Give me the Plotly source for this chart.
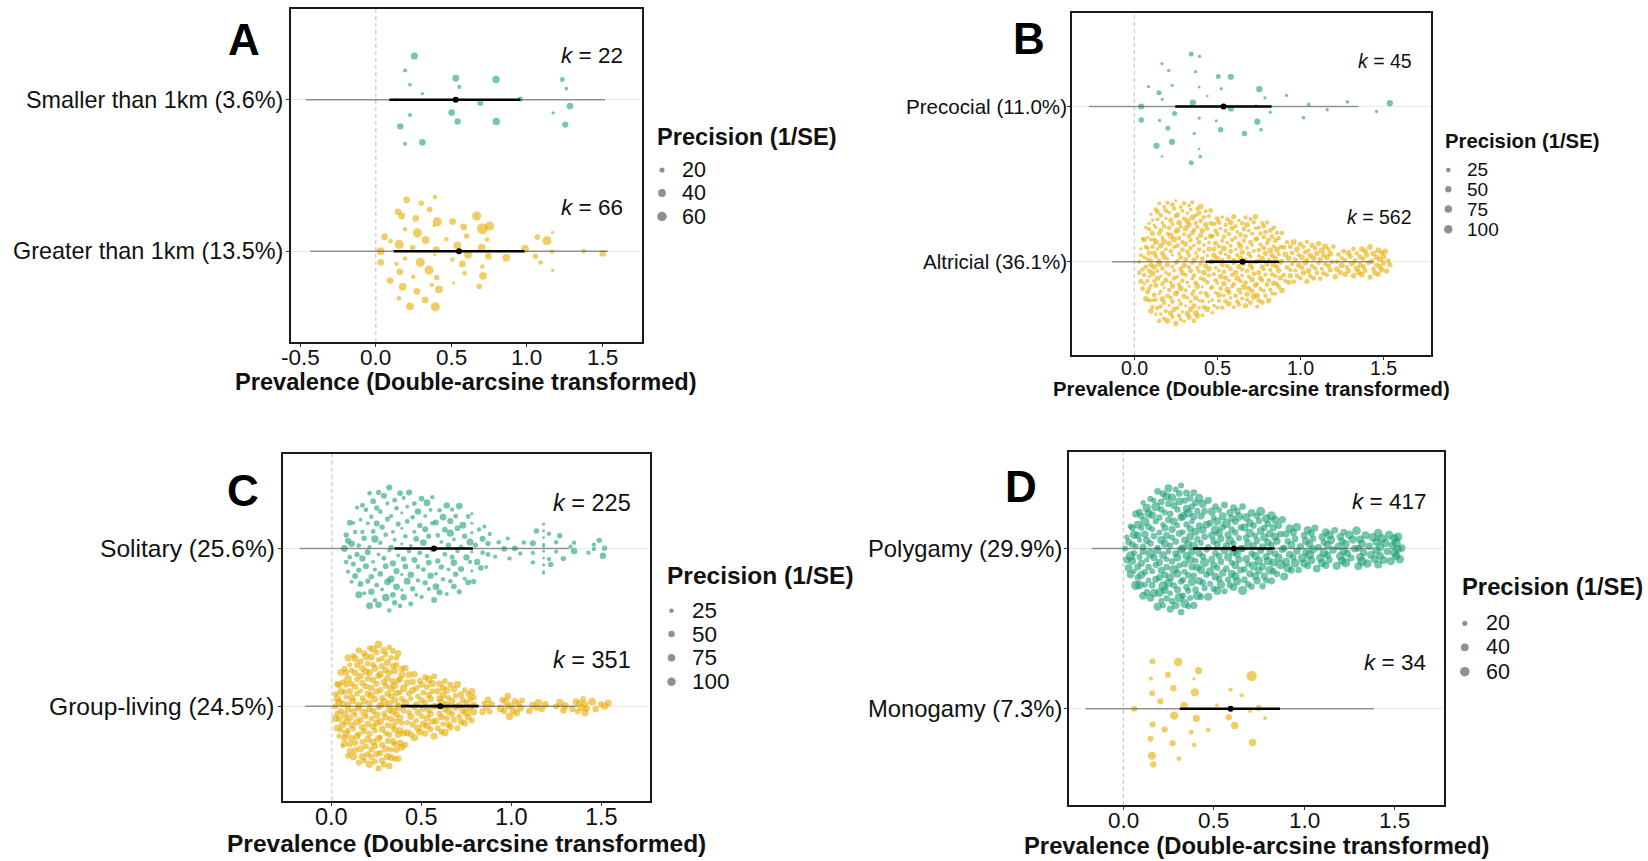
import numpy as np
import plotly.graph_objects as go

W, H = 1648, 861
FONT = "Liberation Sans, Arial, Helvetica, sans-serif"
TEAL = "#1B9E77"
GOLD = "#E6AB02"

# ======================= DATA =======================
# ---- Panel A : dispersal distance ----
A_CATS = ["Greater than 1km (13.5%)", "Smaller than 1km (3.6%)"]   # bottom, top
A_K = ["66", "22"]
A_TOP_X = [0.255, 0.193, 0.226, 0.308, 0.138, 0.529, 0.553, 0.502, 0.542, 0.692,
           0.796, 0.798, 0.957, 1.235, 1.262, 1.286, 1.174, 1.255, 0.226, 0.162,
           0.193, 0.308]
A_TOP_P = [33, 15, 14, 30, 13, 30, 15, 30, 27, 24, 36, 36, 20, 18, 14, 30, 13, 26, 15, 28, 15, 13]
A_BOT_X = [0.032, 0.032, 0.058, 0.098, 0.155, 0.147, 0.171, 0.204, 0.301, 0.390,
           0.357, 0.264, 0.193, 0.275, 0.244, 0.330, 0.407, 0.392, 0.509, 0.467,
           0.401, 0.385, 0.582, 0.602, 0.540, 0.668, 0.706, 0.754, 0.736, 0.706,
           0.610, 0.573, 0.507, 0.745, 0.864, 0.701, 0.710, 0.588, 0.685, 0.515,
           0.418, 0.403, 0.352, 0.294, 0.193, 0.136, 0.160, 0.248, 0.094, 0.177,
           0.272, 0.370, 0.153, 0.226, 0.326, 0.394, 0.988, 1.070, 1.134, 1.171,
           1.167, 1.057, 1.092, 1.171, 1.377, 1.503]
A_BOT_P = [40, 30, 30, 17, 55, 30, 30, 30, 22, 13,
           22, 30, 17, 55, 22, 40, 55, 17, 30, 17,
           30, 13, 30, 22, 40, 55, 17, 55, 17, 80,
           40, 30, 17, 30, 40, 40, 40, 17, 22, 13,
           40, 22, 55, 55, 17, 17, 30, 17, 30, 40,
           30, 17, 17, 40, 30, 55, 40, 22, 55, 13,
           17, 22, 17, 13, 17, 30]
# estimates: mean, CI low, CI high, PI low, PI high
A_TOP_EST = [0.529, 0.089, 0.957, -0.464, 1.518]
A_BOT_EST = [0.551, 0.118, 0.984, -0.435, 1.538]
A_LEG = [20, 40, 60]

# ---- Panel B : developmental mode ----
B_CATS = ["Altricial (36.1%)", "Precocial (11.0%)"]
B_K = ["562", "45"]
B_TOP_X = [0.343, 0.391, 0.167, 0.207, 0.369, 0.506, 0.582, 0.086, 0.229, 0.393,
           0.524, 0.149, 0.440, 0.753, 0.787, 0.917, 0.169, 0.353, 0.042, 0.582,
           0.243, 0.733, 0.819, 1.050, 1.162, 1.284, 1.459, 1.539, 0.042, 0.153,
           0.391, 0.494, 0.741, 1.019, 0.203, 0.520, 0.361, 0.664, 0.763, 0.134,
           0.227, 0.391, 0.167, 0.397, 0.343]
B_TOP_P = [37, 13, 17, 17, 17, 37, 60, 17, 17, 17,
           17, 37, 13, 60, 17, 17, 17, 60, 60, 60,
           37, 13, 17, 20, 17, 20, 17, 60, 45, 17,
           13, 17, 60, 20, 37, 45, 17, 45, 20, 60,
           60, 17, 13, 20, 37]
B_BOT_X = [
    0.03,0.03,0.04,0.04,0.04,0.05,0.05,0.05,0.06,0.06,0.06,0.06,0.07,0.07,0.07,0.07,0.08,0.08,0.08,0.08,0.08,0.09,0.09,0.09,0.09,0.09,0.09,0.09,
    0.10,0.10,0.10,0.10,0.10,0.10,0.11,0.11,0.11,0.11,0.11,0.11,0.12,0.12,0.12,0.12,0.12,0.12,0.13,0.13,0.13,0.13,0.13,0.13,0.13,
    0.14,0.14,0.14,0.14,0.14,0.14,0.15,0.15,0.15,0.15,0.15,0.15,0.16,0.16,0.16,0.16,0.16,0.16,0.16,0.17,0.17,0.17,0.17,0.17,0.17,
    0.18,0.18,0.18,0.18,0.18,0.18,0.18,0.19,0.19,0.19,0.19,0.19,0.19,
    0.20,0.20,0.20,0.20,0.20,0.20,0.21,0.21,0.21,0.21,0.21,0.21,0.22,0.22,0.22,0.22,0.22,0.22,0.23,0.23,0.23,0.23,0.23,0.23,0.23,
    0.24,0.24,0.24,0.24,0.24,0.24,0.25,0.25,0.25,0.25,0.25,0.25,0.26,0.26,0.26,0.26,0.26,0.26,0.26,0.27,0.27,0.27,0.27,0.27,0.27,
    0.28,0.28,0.28,0.28,0.28,0.28,0.28,0.29,0.29,0.29,0.29,0.29,0.29,
    0.30,0.30,0.30,0.30,0.30,0.30,0.31,0.31,0.31,0.31,0.31,0.31,0.32,0.32,0.32,0.32,0.32,0.32,0.33,0.33,0.33,0.33,0.33,0.33,0.33,
    0.34,0.34,0.34,0.34,0.34,0.34,0.35,0.35,0.35,0.35,0.35,0.35,0.36,0.36,0.36,0.36,0.36,0.36,0.36,0.37,0.37,0.37,0.37,0.37,0.37,
    0.38,0.38,0.38,0.38,0.38,0.38,0.38,0.39,0.39,0.39,0.39,0.39,0.39,
    0.40,0.40,0.40,0.40,0.40,0.40,0.41,0.41,0.41,0.41,0.41,0.42,0.42,0.42,0.42,0.42,0.42,0.43,0.43,0.43,0.43,0.43,
    0.44,0.44,0.44,0.44,0.44,0.45,0.45,0.45,0.45,0.45,0.45,0.46,0.46,0.46,0.46,0.46,0.47,0.47,0.47,0.47,0.47,
    0.48,0.48,0.48,0.48,0.48,0.49,0.49,0.49,0.49,0.49,
    0.50,0.50,0.50,0.50,0.50,0.51,0.51,0.51,0.51,0.51,0.52,0.52,0.52,0.52,0.53,0.53,0.53,0.53,0.53,
    0.54,0.54,0.54,0.54,0.54,0.55,0.55,0.55,0.55,0.55,0.56,0.56,0.56,0.56,0.57,0.57,0.57,0.57,0.57,
    0.58,0.58,0.58,0.58,0.58,0.59,0.59,0.59,0.59,
    0.60,0.60,0.60,0.60,0.60,0.61,0.61,0.61,0.61,0.61,0.62,0.62,0.62,0.62,0.63,0.63,0.63,0.63,0.63,
    0.64,0.64,0.64,0.64,0.64,0.65,0.65,0.65,0.65,0.65,0.66,0.66,0.66,0.66,0.67,0.67,0.67,0.67,0.67,
    0.68,0.68,0.68,0.68,0.68,0.69,0.69,0.69,0.69,
    0.70,0.70,0.70,0.70,0.70,0.71,0.71,0.71,0.71,0.71,0.72,0.72,0.72,0.72,0.73,0.73,0.73,0.73,0.73,
    0.74,0.74,0.74,0.74,0.74,0.75,0.75,0.75,0.75,0.75,0.76,0.76,0.76,0.76,0.77,0.77,0.77,0.77,0.77,
    0.78,0.78,0.78,0.78,0.78,0.79,0.79,0.79,0.79,
    0.80,0.80,0.80,0.80,0.81,0.81,0.81,0.81,0.82,0.82,0.82,0.82,0.83,0.83,0.83,0.83,
    0.84,0.84,0.84,0.84,0.85,0.85,0.85,0.85,0.86,0.86,0.86,0.86,0.87,0.87,0.87,0.87,
    0.88,0.88,0.88,0.89,0.89,0.89,
    0.90,0.90,0.91,0.91,0.92,0.92,0.93,0.93,0.94,0.94,0.94,0.95,0.95,0.96,0.96,0.97,0.97,0.98,0.98,0.99,0.99,
    1.00,1.00,1.01,1.01,1.02,1.02,1.03,1.03,1.04,1.04,1.04,1.05,1.05,1.06,1.06,1.07,1.07,1.08,1.08,1.09,1.09,
    1.10,1.10,1.11,1.11,1.12,1.12,1.13,1.13,1.14,1.14,1.15,1.15,1.16,1.16,1.17,1.17,1.18,1.18,1.19,
    1.20,1.21,1.22,1.22,1.23,1.24,1.25,1.25,1.26,1.27,1.27,1.28,1.29,1.29,
    1.30,1.31,1.32,1.32,1.33,1.34,1.34,1.35,1.36,1.36,1.37,1.37,1.38,1.38,1.39,1.39,
    1.40,1.41,1.42,1.42,1.43,1.44,1.44,1.45,1.46,1.46,1.47,1.47,1.48,1.48,1.49,1.49,
    1.50,1.50,1.51,1.52,1.53,1.54]
B_BOT_P = [
    20,30,16,40,22,28,18,35,24,30,45,18,26,32,20,50,22,28,16,38,24,30,20,26,42,18,30,22,
    25,35,18,45,28,20,38,22,30,55,20,28,42,24,16,34,22,48,28,20,32,40,18,26,50,22,35,28,20,42,
    24,16,30,55,22,28,38,20,34,26,45,18,28,22,38,30,20,52,24,34,22,28,44,16,32,26,48,20,35,28,
    22,40,18,
    30,22,40,26,50,20,28,35,16,42,28,22,48,30,20,38,26,58,22,34,28,16,44,24,32,50,20,28,40,22,
    35,24,46,20,28,16,40,32,22,55,26,35,20,42,28,22,32,48,18,28,38,24,22,35,50,20,30,28,44,24,
    20,36,28,
    28,40,22,48,30,18,36,24,55,16,40,28,22,44,32,24,52,20,36,28,22,40,30,16,48,24,28,36,20,44,
    30,22,56,28,40,16,26,36,48,22,28,40,20,32,24,52,22,36,28,44,20,32,24,40,22,48,28,16,36,24,
    44,22,32,
    26,36,20,44,28,48,22,32,16,40,28,22,50,26,36,20,32,44,28,22,40,26,55,20,32,28,36,22,48,26,
    16,40,28,32,22,44,26,36,20,50,28,32,22,40,26,36,20,44,28,32,22,40,26,
    36,26,44,22,32,50,28,20,40,26,32,48,22,36,28,40,20,32,26,44,28,22,55,32,26,36,20,40,28,48,
    22,32,26,44,36,20,28,40,26,32,50,22,36,28,40,26,32,
    28,40,22,48,32,26,36,20,44,28,32,26,52,22,36,28,40,20,32,48,26,36,22,44,28,32,26,40,22,36,
    55,28,32,26,44,22,36,28,40,20,32,48,26,36,28,22,40,
    32,44,26,36,22,48,28,40,20,32,28,52,26,36,22,40,32,28,44,26,36,22,32,48,28,40,26,36,20,44,
    28,32,26,40,22,36,52,28,32,26,40,22,36,28,44,26,32,
    36,26,44,28,48,22,32,40,28,52,26,36,22,40,32,28,44,26,55,32,22,36,28,40,26,48,32,28,36,22,
    44,28,40,26,36,32,48,28,
    32,44,26,52,36,28,40,48,26,36,44,32,28,55,36,40,26,48,32,28,44,
    40,28,48,36,26,44,32,52,28,40,36,48,26,32,44,28,40,36,52,32,28,
    36,48,28,40,32,44,26,52,36,40,28,48,32,44,36,26,40,52,32,
    32,44,28,48,36,40,26,52,36,44,32,28,48,40,
    40,52,32,44,36,55,28,48,40,36,44,52,32,40,48,36,
    44,36,52,40,48,32,55,40,44,36,52,40,48,44,36,48,
    48,40,52,44,36,40]
B_TOP_EST = [0.538, 0.247, 0.827, -0.273, 1.350]
B_BOT_EST = [0.652, 0.431, 0.873, -0.135, 1.440]
B_LEG = [25, 50, 75, 100]

# ---- Panel C : sociality ----
C_CATS = ["Group-living (24.5%)", "Solitary (25.6%)"]
C_K = ["351", "225"]
C_TOP_X = [
    0.07,0.08,0.08,0.09,0.09,
    0.10,0.10,0.11,0.11,0.12,0.12,0.13,0.13,0.14,0.14,0.15,0.15,0.15,0.16,0.16,0.17,0.17,0.17,0.18,0.18,0.19,0.19,
    0.20,0.20,0.20,0.21,0.21,0.21,0.22,0.22,0.22,0.23,0.23,0.23,0.24,0.24,0.24,0.25,0.25,0.25,0.26,0.26,0.26,0.27,0.27,0.27,0.28,0.28,0.29,0.29,
    0.30,0.30,0.30,0.31,0.31,0.31,0.32,0.32,0.32,0.33,0.33,0.33,0.34,0.34,0.34,0.35,0.35,0.35,0.36,0.36,0.36,0.37,0.37,0.38,0.38,0.39,0.39,0.39,0.39,0.39,
    0.40,0.40,0.40,0.41,0.41,0.42,0.42,0.42,0.43,0.43,0.44,0.44,0.44,0.45,0.45,0.46,0.46,0.46,0.47,0.47,0.48,0.48,0.48,0.49,0.49,
    0.50,0.50,0.51,0.51,0.52,0.52,0.52,0.53,0.53,0.54,0.54,0.54,0.55,0.55,0.56,0.56,0.56,0.57,0.57,0.58,0.58,0.58,0.59,0.59,
    0.60,0.60,0.61,0.61,0.62,0.62,0.63,0.63,0.64,0.64,0.65,0.65,0.66,0.66,0.66,0.67,0.67,0.68,0.68,0.68,0.69,0.69,
    0.70,0.70,0.71,0.71,0.72,0.72,0.73,0.74,0.74,0.75,0.76,0.76,0.77,0.77,0.78,0.78,0.78,0.78,0.78,0.79,
    0.80,0.81,0.82,0.83,0.84,0.84,0.85,0.86,0.87,0.87,0.88,
    0.91,0.93,0.96,0.98,0.99,
    1.02,1.05,1.07,
    1.12,1.12,1.12,1.14,1.18,1.18,1.18,1.18,1.18,1.18,1.18,1.18,1.18,1.18,
    1.21,1.21,1.22,1.25,1.25,1.27,1.29,
    1.33,1.35,1.35,
    1.43,1.46,1.46,1.49,
    1.51,1.52]
C_TOP_P = [
    60,25,35,20,45,
    25,40,20,55,30,18,45,25,35,20,60,25,30,18,40,22,50,28,20,35,45,25,
    30,18,45,25,60,20,35,22,50,28,18,40,25,70,20,35,28,45,18,30,55,22,40,25,18,35,28,45,
    75,25,40,20,55,30,18,45,25,35,65,22,40,18,50,28,35,20,45,25,60,30,18,40,25,14,14,14,15,14,
    35,20,50,25,40,18,60,28,22,45,30,18,55,25,35,20,45,28,18,40,25,50,22,35,28,
    40,22,55,28,18,35,45,25,60,20,30,40,18,50,25,35,22,45,28,18,40,55,25,35,
    25,45,18,35,60,22,40,28,50,20,35,18,45,25,65,30,22,40,18,55,28,35,
    40,22,55,30,25,45,60,20,35,50,28,40,65,22,14,14,15,14,14,35,
    30,50,22,40,45,25,20,18,35,28,22,
    22,25,40,20,22,
    40,22,25,
    22,45,22,35,13,13,13,13,14,13,13,14,13,13,
    22,22,35,22,20,35,35,
    22,50,22,
    22,22,22,35,
    50,35]
C_BOT_X = [
    0.02,0.02,0.02,0.03,0.03,0.03,0.03,0.04,0.04,0.04,0.04,0.05,0.05,0.05,0.05,0.06,0.06,0.06,0.06,
    0.07,0.07,0.07,0.07,0.07,0.08,0.08,0.08,0.08,0.08,0.09,0.09,0.09,0.09,0.09,0.09,
    0.10,0.10,0.10,0.10,0.10,0.11,0.11,0.11,0.11,0.11,0.12,0.12,0.12,0.12,0.12,0.13,0.13,0.13,0.13,0.13,0.13,
    0.14,0.14,0.14,0.14,0.14,0.15,0.15,0.15,0.15,0.15,0.16,0.16,0.16,0.16,0.16,0.17,0.17,0.17,0.17,0.17,0.17,
    0.18,0.18,0.18,0.18,0.18,0.19,0.19,0.19,0.19,0.19,
    0.20,0.20,0.20,0.20,0.20,0.20,0.21,0.21,0.21,0.21,0.21,0.21,0.22,0.22,0.22,0.22,0.22,0.22,0.23,0.23,0.23,0.23,0.23,0.23,
    0.24,0.24,0.24,0.24,0.24,0.25,0.25,0.25,0.25,0.25,0.25,0.26,0.26,0.26,0.26,0.26,0.26,0.27,0.27,0.27,0.27,0.27,0.27,
    0.28,0.28,0.28,0.28,0.28,0.28,0.29,0.29,0.29,0.29,0.29,
    0.30,0.30,0.30,0.30,0.30,0.30,0.31,0.31,0.31,0.31,0.31,0.31,0.32,0.32,0.32,0.32,0.32,0.32,0.33,0.33,0.33,0.33,0.33,0.33,
    0.34,0.34,0.34,0.34,0.34,0.34,0.35,0.35,0.35,0.35,0.35,0.35,0.36,0.36,0.36,0.36,0.36,0.36,0.37,0.37,0.37,0.37,0.37,0.37,
    0.38,0.38,0.38,0.38,0.38,0.39,0.39,0.39,0.39,0.39,
    0.40,0.40,0.40,0.41,0.41,0.41,0.42,0.42,0.42,0.43,0.43,0.43,0.44,0.44,0.44,0.45,0.45,0.45,0.46,0.46,0.46,
    0.47,0.47,0.47,0.48,0.48,0.48,0.49,0.49,
    0.50,0.50,0.50,0.51,0.51,0.51,0.52,0.52,0.52,0.53,0.53,0.53,0.54,0.54,0.54,0.55,0.55,0.55,0.56,0.56,0.56,
    0.57,0.57,0.57,0.58,0.58,0.59,0.59,
    0.60,0.60,0.60,0.61,0.61,0.61,0.62,0.62,0.62,0.63,0.63,0.63,0.64,0.64,0.64,0.65,0.65,0.65,
    0.66,0.66,0.67,0.67,0.68,0.68,0.69,0.69,
    0.70,0.70,0.71,0.71,0.72,0.72,0.73,0.73,0.74,0.74,0.75,0.75,0.76,0.76,0.77,0.77,0.78,0.78,0.79,0.79,0.79,
    0.84,0.85,0.86,0.87,0.88,0.89,
    0.94,0.95,0.96,0.97,0.98,0.98,0.99,
    1.00,1.01,1.02,1.03,1.04,1.05,1.06,
    1.10,1.12,1.14,1.15,1.17,1.19,
    1.25,1.27,1.29,1.30,
    1.34,1.36,1.37,1.38,1.39,
    1.40,1.41,1.41,1.42,1.45,1.47,
    1.50,1.52,1.54]
C_BOT_P = [
    45,65,35,55,75,40,50,30,60,45, 55,35,70,45,60,25,50,65,40,55,
    35,75,45,50,30,60,45,70,40,55, 65,40,55,35,80,45,50,60,30,45,
    70,50,35,60,45,55,40,75,50,35, 60,45,55,30,65,50,40,70,45,55,
    35,60,50,45,75,40,55,65,30,50, 45,70,35,55,60,40,50,80,45,35,
    55,45,65,40,50,30,70,45,60,55, 40,65,45,55,35,75,50,45,60,40,
    50,35,60,45,70,55,40,65,50,45, 75,40,55,35,60,50,45,70,40,55,
    45,60,35,65,50,40,75,45,55,30, 60,50,45,70,35,55,40,65,50,45,
    55,40,65,45,80,35,50,60,45,55, 35,70,50,45,60,40,55,75,35,50,
    65,45,55,40,70,50,35,60,45,55, 40,60,50,75,45,35,65,50,55,40,
    70,45,35,55,60,50,45,65,40,75, 50,55,40,60,45,70,35,55,50,65,
    45,35,60,50,75,40,55,45,65,35, 55,70,45,40,60,50,35,65,55,45,
    60,40,55,70,45,35,50,75,40,55, 45,65,50,35,55,60,40,70,45,50,
    35,55,45,65,50,40,75,45,60,55, 70,50,40,55,45,65,35,60,50,45,
    55,45,60,40,70,50,55,35,65,45, 40,75,50,45,60,55,35,70,45,60,
    65,45,55,50,40,60,70,45,55,35, 50,60,45,65,35,55,45,75,40,60,
    45,55,70,40,50,65,45,60,35,55, 60,40,55,75,45,50,65,40,55,70,
    55,65,45,60,50,70,40,55,65,45, 75,50,60,45,65,55,70,50,60,45,
    55,70,45,65,60,50,75,55,45,65, 60]
C_TOP_EST = [0.569, 0.349, 0.786, -0.180, 1.320]
C_BOT_EST = [0.604, 0.385, 0.818, -0.149, 1.370]
C_LEG = [25, 50, 75, 100]

# ---- Panel D : mating system ----
D_CATS = ["Monogamy (7.3%)", "Polygamy (29.9%)"]
D_K = ["34", "417"]
D_TOP_X = [
    0.01,0.02,0.02,0.03,0.03,0.04,0.04,0.04,0.05,0.05,0.05,0.06,0.06,0.06,0.07,0.07,0.07,0.08,0.08,0.08,0.08,0.09,0.09,0.09,0.09,
    0.10,0.10,0.10,0.10,0.11,0.11,0.11,0.11,0.12,0.12,0.12,0.12,0.13,0.13,0.13,0.13,0.14,0.14,0.14,0.14,
    0.15,0.15,0.15,0.15,0.16,0.16,0.16,0.16,0.17,0.17,0.17,0.17,0.18,0.18,0.18,0.18,0.19,0.19,0.19,0.19,
    0.20,0.20,0.20,0.20,0.20,0.21,0.21,0.21,0.21,0.21,0.22,0.22,0.22,0.22,0.22,0.23,0.23,0.23,0.23,0.23,
    0.24,0.24,0.24,0.24,0.24,0.25,0.25,0.25,0.25,0.25,0.26,0.26,0.26,0.26,0.26,0.27,0.27,0.27,0.27,0.27,
    0.28,0.28,0.28,0.28,0.29,0.29,0.29,0.29,
    0.30,0.30,0.30,0.30,0.30,0.31,0.31,0.31,0.31,0.31,0.32,0.32,0.32,0.32,0.32,0.33,0.33,0.33,0.33,0.33,
    0.34,0.34,0.34,0.34,0.34,0.35,0.35,0.35,0.35,0.35,0.36,0.36,0.36,0.36,0.36,0.37,0.37,0.37,0.37,0.37,
    0.38,0.38,0.38,0.38,0.38,0.39,0.39,0.39,0.39,0.39,
    0.40,0.40,0.40,0.40,0.41,0.41,0.41,0.41,0.42,0.42,0.42,0.42,0.43,0.43,0.43,0.43,0.44,0.44,0.44,0.44,
    0.45,0.45,0.45,0.45,0.46,0.46,0.46,0.47,0.47,0.47,0.48,0.48,0.48,0.49,0.49,0.49,
    0.50,0.50,0.50,0.50,0.51,0.51,0.51,0.51,0.52,0.52,0.52,0.52,0.53,0.53,0.53,0.53,
    0.54,0.54,0.54,0.55,0.55,0.55,0.56,0.56,0.56,0.57,0.57,0.57,0.58,0.58,0.58,0.59,0.59,0.59,
    0.60,0.60,0.60,0.60,0.61,0.61,0.61,0.61,0.62,0.62,0.62,0.62,
    0.63,0.63,0.63,0.64,0.64,0.64,0.65,0.65,0.65,0.66,0.66,0.66,0.67,0.67,0.67,0.68,0.68,0.68,0.69,0.69,0.69,
    0.70,0.70,0.70,0.71,0.71,0.71,0.72,0.72,0.72,0.73,0.73,0.73,0.74,0.74,0.74,
    0.75,0.75,0.75,0.76,0.76,0.76,0.77,0.77,0.77,0.78,0.78,0.78,0.79,0.79,0.79,
    0.80,0.80,0.80,0.81,0.81,0.81,0.82,0.82,0.82,0.83,0.83,0.83,0.84,0.84,0.84,
    0.85,0.85,0.86,0.86,0.87,0.87,0.88,0.88,0.89,0.89,
    0.90,0.90,0.91,0.91,0.92,0.92,0.93,0.93,0.94,0.94,0.95,0.95,0.96,0.96,0.97,0.98,0.99,
    1.00,1.00,1.01,1.01,1.02,1.02,1.03,1.03,1.04,1.04,1.05,1.05,1.06,1.07,1.08,1.09,
    1.10,1.10,1.11,1.11,1.12,1.12,1.13,1.13,1.14,1.14,1.15,1.16,1.17,1.18,1.19,
    1.20,1.20,1.21,1.21,1.22,1.22,1.23,1.23,1.24,1.25,1.26,1.27,1.28,1.29,
    1.30,1.30,1.31,1.31,1.32,1.32,1.33,1.34,1.35,1.36,1.37,1.38,1.39,
    1.40,1.40,1.41,1.41,1.42,1.42,1.43,1.44,1.45,1.46,1.47,1.48,1.49,
    1.50,1.50,1.51,1.51,1.52,1.52,1.53,1.54]
D_TOP_P = [
    25,35,20,45,30,55,22,38,28,40, 30,20,48,25,35,60,22,32,42,28,
    38,25,30,50,20,35,28,45,24,33, 22,40,30,28,55,25,36,20,44,30,
    35,28,45,22,30,60,26,38,32,24, 42,30,25,36,20,48,30,28,55,34,
    26,38,30,45,22,33,28,50,25,36, 30,24,42,35,28,58,22,40,30,26,
    45,30,25,38,33,22,48,28,36,30, 28,52,30,24,40,35,26,45,30,22,
    36,28,44,30,25,55,32,27,40,30, 24,38,30,46,28,35,22,42,30,60,
    32,26,40,28,35,48,25,30,38,27, 45,30,22,36,28,52,34,25,40,30,
    28,42,32,25,38,30,56,26,35,44, 30,25,40,34,28,46,22,38,30,35,
    50,28,36,30,42,25,32,55,28,38, 26,40,30,35,48,28,24,42,34,30,
    38,30,45,26,32,58,30,28,40,25, 35,42,28,50,30,25,38,32,46,28,
    30,36,24,40,55,30,28,44,35,26, 42,28,38,30,25,48,34,30,40,36,
    28,45,32,26,38,30,60,28,35,42, 36,30,48,25,34,40,28,52,30,38,
    25,40,30,44,28,36,32,46,26,34, 48,32,28,38,30,55,35,27,42,30,
    30,38,45,28,35,26,40,34,50,28, 40,28,34,52,30,38,25,45,32,36,
    32,46,28,36,42,30,55,28,38,34, 28,35,40,30,48,26,36,44,30,50,
    38,30,55,34,28,42,36,30,46,32, 45,28,36,40,32,58,30,38,34,42,
    30,42,34,48,28,36,45,32,40,30, 36,50,30,38,44,28,34,52,30,40,
    42,32,46,30,38,55,34,40,28,45, 34,40,30,48,36,42,30,50,38,35,
    40,35,52,32,45,38,30,44,36,48, 38,46,34,42,30,55,40,36,48,32,
    44,36,50,40,34,46,38,58,42,36, 40,48,36,45,52,38,44,40,50,42,
    46,40,55,42,48,36,50,44,40,52, 48,42,55,40,50,46,38]
D_BOT_X = [0.160, 0.304, 0.417, 0.247, 0.153, 0.393, 0.710, 0.277, 0.396, 0.162,
           0.594, 0.655, 0.205, 0.337, 0.518, 0.061, 0.749, 0.701, 0.282, 0.404,
           0.584, 0.784, 0.162, 0.229, 0.376, 0.470, 0.616, 0.151, 0.273, 0.391,
           0.715, 0.159, 0.308, 0.166]
D_BOT_P = [25, 48, 35, 25, 16, 18, 72, 27, 45, 25,
           16, 15, 27, 35, 14, 25, 25, 15, 45, 35,
           27, 15, 25, 27, 18, 18, 35, 25, 27, 13,
           35, 45, 18, 27]
D_TOP_EST = [0.612, 0.387, 0.837, -0.175, 1.382]
D_BOT_EST = [0.594, 0.313, 0.867, -0.208, 1.386]
D_LEG = [20, 40, 60]

TICKS_A = [-0.5, 0.0, 0.5, 1.0, 1.5]
TICKS = [0.0, 0.5, 1.0, 1.5]
X_TITLE = "Prevalence (Double-arcsine transformed)"
LEG_TITLE = "Precision (1/SE)"

# ======================= LAYOUT / STYLE =======================
PANELS = [
    dict(letter="A", cats=A_CATS, k=A_K, top=(A_TOP_X, A_TOP_P, A_TOP_EST), bot=(A_BOT_X, A_BOT_P, A_BOT_EST),
         leg=A_LEG, ticks=TICKS_A, px=(290.6, 641.5), py=(9, 342), xr=(-0.565, 1.76),
         fs=22.5, cfs=23.4, tfs=23.6, lfs=21.5, ltfs=23.6, letter_xy=(243.8, 39.3),
         title_xy=(466, 381.7), tick_y=357.5, cat_right=285, kx=1.65,
         leg_title=(655, 137), leg_y=[170, 193, 216.5], leg_dot_x=662, leg_lab_x=680,
         lim=(12, 81), dscale=1.0),
    dict(letter="B", cats=B_CATS, k=B_K, top=(B_TOP_X, B_TOP_P, B_TOP_EST), bot=(B_BOT_X, B_BOT_P, B_BOT_EST),
         leg=B_LEG, ticks=TICKS, px=(1072.3, 1431.0), py=(13.3, 355), xr=(-0.373, 1.787),
         fs=19.5, cfs=20.6, tfs=20.3, lfs=19, ltfs=20.3, letter_xy=(1029, 39),
         title_xy=(1251.7, 389), tick_y=368.5, cat_right=1069, kx=1.687,
         leg_title=(1443.3, 141.5), leg_y=[170, 189.3, 209, 229.3], leg_dot_x=1448.3, leg_lab_x=1465,
         lim=(12, 181), dscale=0.9),
    dict(letter="C", cats=C_CATS, k=C_K, top=(C_TOP_X, C_TOP_P, C_TOP_EST), bot=(C_BOT_X, C_BOT_P, C_BOT_EST),
         leg=C_LEG, ticks=TICKS, px=(282.5, 650.4), py=(454, 800.7), xr=(-0.275, 1.775),
         fs=23.5, cfs=24.6, tfs=24.5, lfs=22.5, ltfs=24.5, letter_xy=(243, 490),
         title_xy=(466.5, 843), tick_y=816.5, cat_right=276.5, kx=1.676,
         leg_title=(664.8, 575), leg_y=[610.7, 634, 657.7, 681.7], leg_dot_x=671.5, leg_lab_x=690,
         lim=(12, 181), dscale=1.0),
    dict(letter="D", cats=D_CATS, k=D_K, top=(D_TOP_X, D_TOP_P, D_TOP_EST), bot=(D_BOT_X, D_BOT_P, D_BOT_EST),
         leg=D_LEG, ticks=TICKS, px=(1068.8, 1444.4), py=(452.3, 805), xr=(-0.301, 1.776),
         fs=22.5, cfs=23.8, tfs=23.8, lfs=21.5, ltfs=23.8, letter_xy=(1021, 486),
         title_xy=(1256.6, 845.5), tick_y=820, cat_right=1063.6, kx=1.683,
         leg_title=(1459.7, 586.7), leg_y=[623.3, 647.3, 671.7], leg_dot_x=1464.8, leg_lab_x=1483.6,
         lim=(12, 81), dscale=1.0),
]
DIAM_RANGE = (2.2, 11.0)
POINT_ALPHA = 0.6


def vdc(n):
    out = np.zeros(n)
    for i in range(1, n + 1):
        v, denom, k = 0.0, 1.0, i
        while k:
            denom *= 2.0
            k, r = divmod(k, 2)
            v += r / denom
        out[i - 1] = v
    return out


def quasi_offsets(x, width=0.4, adjust=0.5):
    """quasirandom (vipor-like) offsets: van der Corput sequence scaled by KDE density."""
    x = np.asarray(x, float)
    n = len(x)
    if n < 2:
        return np.zeros(n)
    sd = x.std(ddof=1)
    q75, q25 = np.percentile(x, [75, 25])
    iqr = (q75 - q25) / 1.34
    lo = min(sd, iqr) if iqr > 0 else sd
    bw = 0.9 * lo * n ** -0.2 * adjust
    grid = np.linspace(x.min() - 3 * bw, x.max() + 3 * bw, 512)
    dens = np.exp(-0.5 * ((grid[:, None] - x[None, :]) / bw) ** 2).sum(axis=1)
    d_at = np.interp(x, grid, dens) / dens.max()
    ranks = np.argsort(np.argsort(x, kind="stable"), kind="stable")
    v = vdc(n)[ranks]
    return (2 * v - 1) * width * d_at


def diam(p, lim, scale=1.0, dr=DIAM_RANGE):
    p = np.asarray(p, float)
    t = np.clip((p - lim[0]) / (lim[1] - lim[0]), 0, 1)
    return scale * (dr[0] + (dr[1] - dr[0]) * np.sqrt(t))


def pxx(v):
    return v / W


def pxy(v):
    return 1 - v / H


fig = go.Figure()
layout = dict(width=W, height=H, margin=dict(l=0, r=0, t=0, b=0), autosize=False,
              paper_bgcolor="white", plot_bgcolor="rgba(0,0,0,0)", showlegend=False,
              font=dict(family=FONT, color="#111111"))
shapes, annotations = [], []
leg_x, leg_y, leg_s = [], [], []


def ann(**kw):
    base = dict(showarrow=False, xanchor="center", yanchor="middle")
    base.update(kw)
    annotations.append(base)


for i, P in enumerate(PANELS, start=1):
    sfx = "" if i == 1 else str(i)
    xa, ya = "x" + sfx, "y" + sfx
    layout["xaxis" + sfx] = dict(
        domain=[pxx(P["px"][0]), pxx(P["px"][1])], range=list(P["xr"]), anchor=ya,
        tickvals=P["ticks"], showticklabels=False, showgrid=False, zeroline=False,
        showline=True, mirror=True, linecolor="#1a1a1a", linewidth=2, ticks="outside", ticklen=3,
        tickwidth=1, tickcolor="#333333", automargin=False, fixedrange=True)
    layout["yaxis" + sfx] = dict(
        domain=[pxy(P["py"][1]), pxy(P["py"][0])], range=[0.4, 2.6], anchor=xa,
        tickvals=[1, 2], showticklabels=False, showgrid=True, gridcolor="#EBEBEB", gridwidth=1,
        zeroline=False, showline=True, mirror=True, linecolor="#1a1a1a", linewidth=2,
        ticks="outside", ticklen=3, tickwidth=1, tickcolor="#333333", automargin=False,
        fixedrange=True)

    # x tick labels
    for t in P["ticks"]:
        ann(x=t, xref=xa, y=pxy(P["tick_y"]), yref="paper", text="%.1f" % t,
            font=dict(size=P["fs"], color="#111111", family=FONT))
    # category labels
    for yv, lab in zip([1, 2], P["cats"]):
        ann(x=pxx(P["cat_right"]), xref="paper", y=yv, yref=ya, xanchor="right", text=lab,
            font=dict(size=P["cfs"], color="#111111", family=FONT))

    # dashed zero line
    shapes.append(dict(type="line", xref=xa, yref=ya + " domain", x0=0, x1=0, y0=0, y1=1,
                       line=dict(color="#BDBDBD", width=1, dash="4px,3px"), layer="below"))

    for ycat, (xs, ps, est), color, ktxt in ((2, P["top"], TEAL, P["k"][1]), (1, P["bot"], GOLD, P["k"][0])):
        n = min(len(xs), len(ps))
        xs_a = np.asarray(xs[:n], float)
        off = quasi_offsets(xs_a)
        fig.add_trace(go.Scatter(
            x=xs_a, y=ycat + off, mode="markers", xaxis=xa, yaxis=ya, hoverinfo="skip",
            marker=dict(size=diam(ps[:n], P["lim"], P["dscale"]), color=color,
                        opacity=POINT_ALPHA, line=dict(width=0))))
        mean, cl, ch, pl, ph = est
        fig.add_trace(go.Scatter(x=[pl, ph], y=[ycat, ycat], mode="lines", xaxis=xa, yaxis=ya,
                                 hoverinfo="skip", line=dict(color="rgba(80,80,80,0.6)", width=1.5)))
        fig.add_trace(go.Scatter(x=[cl, ch], y=[ycat, ycat], mode="lines", xaxis=xa, yaxis=ya,
                                 hoverinfo="skip", line=dict(color="black", width=2.6)))
        fig.add_trace(go.Scatter(x=[mean], y=[ycat], mode="markers", xaxis=xa, yaxis=ya,
                                 hoverinfo="skip", marker=dict(size=6, color="black")))
        ann(x=P["kx"], y=ycat + 0.29, xref=xa, yref=ya, xanchor="right",
            text="<i>k</i> = " + ktxt, font=dict(size=P["fs"], color="#111111", family=FONT))

    # panel letter
    ann(x=pxx(P["letter_xy"][0]), y=pxy(P["letter_xy"][1]), xref="paper", yref="paper",
        text="<b>%s</b>" % P["letter"], font=dict(size=44, color="black", family=FONT))
    # x-axis title
    ann(x=pxx(P["title_xy"][0]), y=pxy(P["title_xy"][1]), xref="paper", yref="paper",
        text="<b>%s</b>" % X_TITLE, font=dict(size=P["tfs"], color="#111111", family=FONT))
    # size legend
    ann(x=pxx(P["leg_title"][0]), y=pxy(P["leg_title"][1]), xref="paper", yref="paper",
        xanchor="left", text="<b>%s</b>" % LEG_TITLE,
        font=dict(size=P["ltfs"], color="#111111", family=FONT))
    for val, yy in zip(P["leg"], P["leg_y"]):
        leg_x.append(P["leg_dot_x"])
        leg_y.append(yy)
        leg_s.append(float(diam([val], P["lim"])[0]))
        ann(x=pxx(P["leg_lab_x"]), y=pxy(yy), xref="paper", yref="paper", xanchor="left",
            text=str(val), font=dict(size=P["lfs"], color="#111111", family=FONT))

# overlay pixel axis for legend keys
layout["xaxis5"] = dict(domain=[0, 1], range=[0, W], anchor="y5", visible=False, fixedrange=True)
layout["yaxis5"] = dict(domain=[0, 1], range=[H, 0], anchor="x5", visible=False, fixedrange=True)
fig.add_trace(go.Scatter(x=leg_x, y=leg_y, mode="markers", xaxis="x5", yaxis="y5", hoverinfo="skip",
                         marker=dict(size=leg_s, color="rgba(0,0,0,0.62)", line=dict(width=0))))

layout["shapes"] = shapes
layout["annotations"] = annotations
fig.update_layout(**layout)
fig.write_html("out.html")
